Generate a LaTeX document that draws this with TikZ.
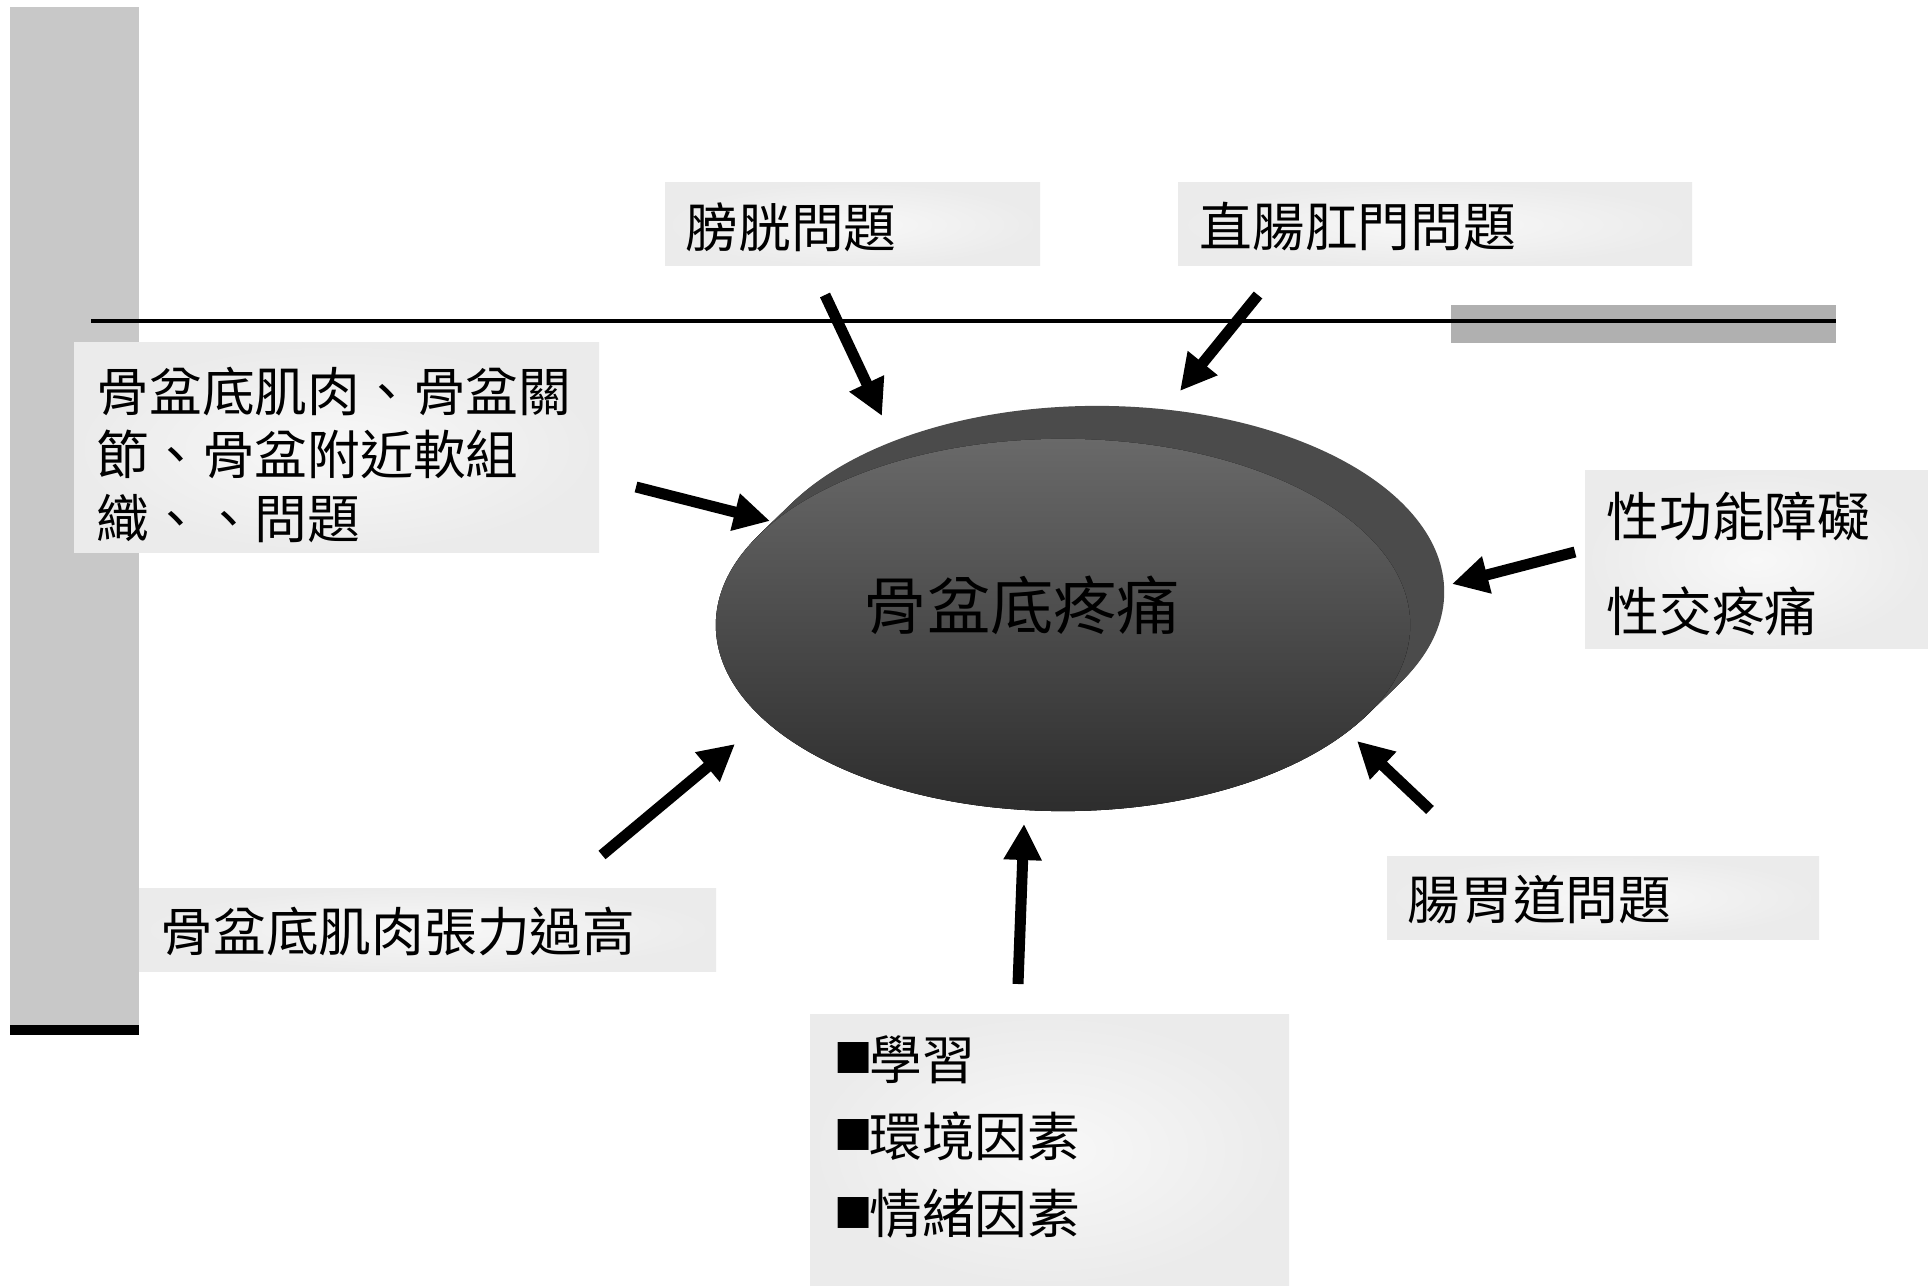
\documentclass[tikz,border=0pt]{standalone}
\usepackage{fontspec}
\newfontfamily\cjk{Noto Sans CJK TC}
\newfontfamily\dejavu{DejaVu Sans}
\usetikzlibrary{arrows.meta}
\definecolor{barlight}{HTML}{C8C8C8}
\definecolor{bardark}{HTML}{B0B0B0}
\definecolor{boxedge}{HTML}{EBEBEB}
\definecolor{boxmid}{HTML}{F8F8F8}
\definecolor{extr}{HTML}{4B4B4B}
\definecolor{disctop}{HTML}{696969}
\definecolor{discbot}{HTML}{2D2D2D}
\newcommand{\sqb}{\raisebox{3pt}{\dejavu\fontsize{11.5pt}{11.5pt}\selectfont ■}}
\begin{document}
\begin{tikzpicture}[x=0.01cm,y=-0.01cm,
  boxbg/.style={inner color=boxmid, outer color=boxedge},
  lbl/.style={inner sep=0pt, anchor=west, align=left, text=black},
  arr/.style={line width=0.11cm, -{Triangle[length=0.36cm,width=0.36cm]}}]
\useasboundingbox (0,0) rectangle (1928,1286);
\fill[white] (0,0) rectangle (1928,1286);
% left bar
\fill[barlight] (10,7) rectangle (139,1030);
\fill[black] (10,1025) rectangle (139,1035);
% right bar and line
\fill[bardark] (1451,305) rectangle (1836,343);
\draw[line width=0.04cm] (91,321) -- (1836,321);
% boxes
\path[boxbg] (665,183) rectangle (1040,266);
\path[boxbg] (1178,183) rectangle (1692,266);
\path[boxbg] (74,343) rectangle (599,553);
\path[boxbg] (1585,471) rectangle (1928,649);
\path[boxbg] (1387,856) rectangle (1819,939);
\path[boxbg] (139,888) rectangle (716,971);
\path[boxbg] (810,1014) rectangle (1289,1286);
% texts
\node[lbl, font=\cjk\fontsize{15pt}{18pt}\selectfont] (bladder) at (685,227) {膀胱問題};
\node[lbl, font=\cjk\fontsize{15pt}{18pt}\selectfont] (rectum) at (1199,227) {直腸肛門問題};
\node[lbl, font=\cjk\fontsize{15pt}{18pt}\selectfont] (muscle) at (96,455) {骨盆底肌肉、骨盆關\\節、骨盆附近軟組\\織、、問題};
\node[lbl, font=\cjk\fontsize{15pt}{27pt}\selectfont] (sexual) at (1606,564) {性功能障礙\\性交疼痛};
\node[lbl, font=\cjk\fontsize{15pt}{18pt}\selectfont] (gi) at (1407,900) {腸胃道問題};
\node[lbl, font=\cjk\fontsize{15pt}{18pt}\selectfont] (tension) at (160,932) {骨盆底肌肉張力過高};
\node[lbl, font=\cjk\fontsize{15pt}{22pt}\selectfont] (factors) at (834,1137) {\sqb\hspace{-1pt}學習\\\sqb\hspace{-1pt}環境因素\\\sqb\hspace{-1pt}情緒因素};
% disc
\foreach \i in {0,...,24}
  \fill[extr] ({1063+34*\i/24},{625-33*\i/24}) ellipse [x radius=3.47cm, y radius=1.86cm];
\fill[top color=disctop, bottom color=discbot] (1063,625) ellipse [x radius=3.47cm, y radius=1.86cm];
\node[inner sep=0pt, font=\cjk\fontsize{18pt}{20pt}\selectfont] (pain) at (1022,605) {骨盆底疼痛};
% arrows
\coordinate (t1) at (825,295);  \coordinate (h1) at (882,416);
\coordinate (t2) at (1258,295); \coordinate (h2) at (1180,391);
\coordinate (t3) at (636,487);  \coordinate (h3) at (770,521);
\coordinate (t4) at (1575,552); \coordinate (h4) at (1452,584);
\coordinate (t5) at (1430,810); \coordinate (h5) at (1357,741);
\coordinate (t6) at (1018,984); \coordinate (h6) at (1024,824);
\coordinate (t7) at (602,855);  \coordinate (h7) at (735,744);
\draw[arr] (t1) -- (h1);
\draw[arr] (t2) -- (h2);
\draw[arr] (t3) -- (h3);
\draw[arr] (t4) -- (h4);
\draw[arr] (t5) -- (h5);
\draw[arr] (t6) -- (h6);
\draw[arr] (t7) -- (h7);
\end{tikzpicture}
\end{document}
